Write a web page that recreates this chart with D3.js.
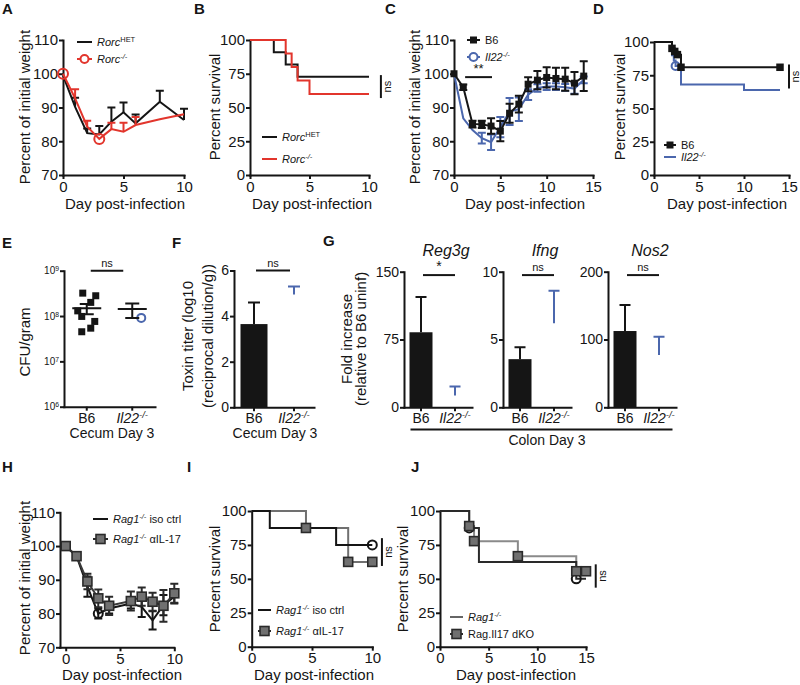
<!DOCTYPE html>
<html>
<head>
<meta charset="utf-8">
<script src="https://cdn.jsdelivr.net/npm/d3@7"></script>
<style>
  body { margin: 0; background: #fff; }
</style>
</head>
<body>
<script>
// ---------- data ----------
// A: weight, Rorc
const daysA = [0, 1, 2, 3, 4, 5, 6, 8, 10];
const hetA = [99.5, 90.2, 82.4, 82, 85.8, 88.6, 85.3, 91.7, 86.3];
const hetErrA = [0, 2.7, 1.4, 2.5, 4.2, 2.9, 2.6, 3.3, 3.3];
const koA = [100, 92.7, 84.3, 80.7, 83.6, 82.8, 84.8, 86.5, 88];
const koErrA = [0, 2.7, 1.8, 0, 1.9, 2.7, 2.4, 0, 0];
const koMarkA = [0, 3];

// B: survival, Rorc
const survTimeHetB = [0, 2, 3, 4, 10];
const survHetB = [100, 90.9, 81.8, 72.7, 72.7];
const survTimeKoB = [0, 3, 3.5, 4, 5, 10];
const survKoB = [100, 90, 80, 70, 60, 60];
const nsB = [74, 57];

// C: weight, B6 vs Il22
const daysC = [0, 1, 2, 3, 4, 5, 6, 7, 8, 9, 10, 11, 12, 13, 14];
const b6C = [100, 96, 85.1, 85, 84.5, 83, 88.3, 91, 96.9, 98.1, 98.9, 98.6, 98.4, 97.2, 99.3];
const b6ErrC = [0, 0.8, 1, 1.1, 2.3, 3, 2.8, 2.5, 2.1, 2.7, 3, 3.2, 3.4, 3.3, 4.4];
const il22C = [100, 86.8, 83.3, 80.9, 79.7, 84.2, 88.8, 89.5, 93.8, 95.8, 96.2, 96.2, 96, 95.6, 98.2];
const il22ErrC = [0, 0, 0, 1.6, 2.3, 3, 4, 3.5, 1.6, 1.1, 1, 1, 1, 1.5, 1];
const starC = [1.2, 4.1, 99];

// D: survival, B6 vs Il22
const survTimeB6D = [0, 2, 2.3, 2.6, 3, 14];
const survB6D = [100, 95.2, 92.9, 90.5, 81, 81];
const markTimeB6D = [2, 2.3, 2.6, 3, 14];
const markB6D = [95.2, 92.9, 90.5, 81, 81];
const survTimeIl22D = [0, 2, 2.2, 2.4, 3, 10, 14];
const survIl22D = [100, 90, 86, 82, 68, 64, 64];
const nsD = [83, 65];

// E: CFU/gram
const catsE = ['B6', 'Il22'];
const cfuB6 = [3.2e8, 2.8e8, 2e8, 1.3e8, 9.8e7, 7.6e7, 4.5e7, 5.4e7];
const jitterB6 = [-4, 9, 4, -9, -5, 8, -5, 4];
const cfuIl22 = [9.1e7];
const jitterIl22 = [9];
const meanE = [1.48e8, 1.43e8];
const lowE = [1.1e8, 9.1e7];
const highE = [1.84e8, 1.9e8];

// F: toxin titer
const toxMean = [3.65, 4.95];
const toxErr = [0.95, 0.35];

// G: fold increase
const genesG = ['Reg3g', 'Ifng', 'Nos2'];
const maxG = [150, 10, 200];
const ticksG = [[0, 75, 150], [0, 5, 10], [0, 100, 200]];
const meanG = [[83, 13], [3.55, 6.2], [112.5, 77]];
const errG = [[39, 10], [0.87, 2.4], [38.5, 27]];
const sigG = ['*', 'ns', 'ns'];

// H: weight, Rag1 iso vs anti-IL-17
const daysH = [0, 1, 2, 3, 4, 6, 7, 8, 9, 10];
const isoH = [100, 97, 88, 80, 81.5, 83, 82, 78, 82.5, 85];
const isoErrH = [0, 0.8, 3, 1.5, 1.5, 1.5, 3, 2.7, 3, 2];
const il17H = [100, 97, 89.5, 84.5, 82.3, 83.7, 85, 83.5, 82.3, 86];
const il17ErrH = [0, 1, 2.3, 2.6, 2.7, 2.8, 2.7, 2.7, 4.7, 2.8];

// I: survival, Rag1 iso vs anti-IL-17
const survTimeIsoI = [0, 1.5, 7, 10];
const survIsoI = [100, 87.5, 75, 75];
const survTimeIl17I = [0, 4.5, 8, 10];
const survIl17I = [100, 87.5, 62.5, 62.5];
const markTimeIl17I = [4.5, 8, 10];
const markIl17I = [87.5, 62.5, 62.5];
const nsI = [10.8, 80, 59.5];

// J: survival, Rag1 vs Rag.Il17 dKO
const survTimeRagJ = [0, 3, 4, 14, 15];
const survRagJ = [100, 87.5, 62.5, 50, 50];
const markTimeRagJ = [3, 14];
const markRagJ = [87.5, 50];
const survTimeDkoJ = [0, 3, 3.5, 8, 14, 15];
const survDkoJ = [100, 88.9, 77.8, 66.7, 55.6, 55.6];
const markTimeDkoJ = [3, 3.5, 8, 14, 15];
const markDkoJ = [88.9, 77.8, 66.7, 55.6, 55.6];
const nsJ = [16, 60.7, 43.5];

// ---------- helpers ----------
const FONT = '"Liberation Sans", Arial, Helvetica, sans-serif';
const INK = '#151515', RED = '#e2352c', BLUE = '#4b67ad', GRAY = '#707070';

const svg = d3.select('body').append('svg')
  .attr('width', 800).attr('height', 685)
  .style('background', '#fff');

function addParts(t, parts) {
  parts.forEach(([s, f]) => {
    const sp = t.append('tspan').text(s);
    if (f.includes('i')) sp.attr('font-style', 'italic');
    if (f.includes('s')) sp.attr('baseline-shift', 'super').attr('font-size', '0.68em');
  });
}

function txt(x, y, parts, fs, anchor, rot, weight) {
  const t = svg.append('text')
    .attr('font-family', FONT).attr('font-size', fs).attr('fill', INK)
    .attr('text-anchor', anchor || 'start')
    .attr('font-weight', weight || 'normal');
  if (rot) t.attr('transform', `translate(${x},${y}) rotate(${rot})`);
  else t.attr('x', x).attr('y', y);
  addParts(t, typeof parts === 'string' ? [[parts, '']] : parts);
  return t;
}

function styleAxis(g, fs) {
  g.attr('font-family', FONT).attr('font-size', fs);
  g.selectAll('path, line').attr('stroke', INK).attr('stroke-width', 2);
  g.select('.domain').attr('stroke-linecap', 'square');
  g.selectAll('text').attr('fill', INK);
}

function axes(x, y, xt, yt, opt = {}) {
  const fs = opt.fs || 15;
  const ax = opt.ax !== undefined ? opt.ax : x.range()[0];
  const gy = svg.append('g').attr('transform', `translate(${ax},0)`)
    .call(d3.axisLeft(y).tickValues(yt).tickSize(4).tickSizeOuter(0).tickPadding(1)
      .tickFormat(opt.yf || d3.format('d')));
  const ax2 = d3.axisBottom(x).tickSize(4).tickSizeOuter(0).tickPadding(2);
  if (xt) ax2.tickValues(xt).tickFormat(d3.format('d'));
  const gx = svg.append('g').attr('transform', `translate(0,${y.range()[0]})`).call(ax2);
  styleAxis(gy, opt.yfs || fs);
  styleAxis(gx, fs);
  if (opt.ax !== undefined) gx.select('.domain').attr('d', `M${ax},0.5H${x.range()[1]}`);
  return { gx, gy };
}

function lineG(x, y, xs, ys, color, curve, width) {
  svg.append('path').datum(xs.map((d, i) => [d, ys[i]]))
    .attr('d', d3.line().x(d => x(d[0])).y(d => y(d[1])).curve(curve || d3.curveLinear))
    .attr('fill', 'none').attr('stroke', color).attr('stroke-width', width || 2)
    .attr('stroke-linejoin', 'miter');
}

function errBars(x, y, xs, ys, es, color, cap, oneSided) {
  const p = d3.path();
  xs.forEach((d, i) => {
    if (!es[i]) return;
    const cx = x(d), hi = y(ys[i] + es[i]), lo = y(oneSided ? ys[i] : ys[i] - es[i]);
    p.moveTo(cx, lo); p.lineTo(cx, hi);
    p.moveTo(cx - cap / 2, hi); p.lineTo(cx + cap / 2, hi);
    if (!oneSided) { p.moveTo(cx - cap / 2, lo); p.lineTo(cx + cap / 2, lo); }
  });
  svg.append('path').attr('d', p.toString()).attr('fill', 'none')
    .attr('stroke', color).attr('stroke-width', 2);
}

function squares(x, y, xs, ys, size, fill, stroke) {
  svg.append('g').selectAll('rect').data(xs.map((d, i) => [d, ys[i]])).join('rect')
    .attr('x', d => x(d[0]) - size / 2).attr('y', d => y(d[1]) - size / 2)
    .attr('width', size).attr('height', size)
    .attr('fill', fill).attr('stroke', stroke || 'none').attr('stroke-width', 1.6);
}

function circles(x, y, xs, ys, r, color) {
  svg.append('g').selectAll('circle').data(xs.map((d, i) => [d, ys[i]])).join('circle')
    .attr('cx', d => x(d[0])).attr('cy', d => y(d[1])).attr('r', r)
    .attr('fill', 'none').attr('stroke', color).attr('stroke-width', 2);
}

function legend(x1, x2, y, color, marker, parts, fs) {
  svg.append('line').attr('x1', x1).attr('x2', x2).attr('y1', y).attr('y2', y)
    .attr('stroke', color).attr('stroke-width', 2);
  const m = (x1 + x2) / 2;
  if (marker === 'sq') svg.append('rect').attr('x', m - 3.5).attr('y', y - 3.5)
    .attr('width', 7).attr('height', 7).attr('fill', INK);
  if (marker === 'sqg') svg.append('rect').attr('x', m - 4.5).attr('y', y - 4.5)
    .attr('width', 9).attr('height', 9).attr('fill', GRAY).attr('stroke', '#2a2a2a').attr('stroke-width', 1.6);
  if (marker === 'circ') svg.append('circle').attr('cx', m).attr('cy', y).attr('r', 4)
    .attr('fill', '#fff').attr('stroke', color).attr('stroke-width', 2);
  txt(x2 + 5, y + 4, parts, fs || 11);
}

function nsMark(xp, y1, y2) {
  svg.append('line').attr('x1', xp).attr('x2', xp).attr('y1', y1).attr('y2', y2)
    .attr('stroke', INK).attr('stroke-width', 2);
  txt(xp + 10, (y1 + y2) / 2, 'ns', 11, 'middle', -90);
}

function hBar(x1, x2, yp, label, fs) {
  svg.append('line').attr('x1', x1).attr('x2', x2).attr('y1', yp).attr('y2', yp)
    .attr('stroke', INK).attr('stroke-width', 2);
  txt((x1 + x2) / 2, yp - 4, label, fs || 11, 'middle');
}

const step = d3.curveStepAfter;
const hetParts = [['Rorc', 'i'], ['HET', 's']];
const koParts = [['Rorc', 'i'], ['-/-', 'is']];
const il22Parts = [['Il22', 'i'], ['-/-', 'is']];
const catParts = { B6: [['B6', '']], Il22: il22Parts };

// panel letters
[['A', 2, 14], ['B', 194, 14], ['C', 385, 14], ['D', 593, 14],
 ['E', 2, 248], ['F', 172, 248], ['G', 323, 246],
 ['H', 2, 472], ['I', 187, 472], ['J', 411, 472]]
  .forEach(([l, x, y]) => txt(x, y, l, 15, 'start', 0, 'bold'));

// ---------- A ----------
const xA = d3.scaleLinear().domain([0, 10]).range([63, 184]);
const yA = d3.scaleLinear().domain([70, 110]).range([175, 40]);
axes(xA, yA, [0, 5, 10], [70, 80, 90, 100, 110]);
lineG(xA, yA, daysA, hetA, INK);
errBars(xA, yA, daysA, hetA, hetErrA, INK, 8, true);
lineG(xA, yA, daysA, koA, RED);
errBars(xA, yA, daysA, koA, koErrA, RED, 8, true);
circles(xA, yA, koMarkA, koMarkA.map(d => koA[daysA.indexOf(d)]), 5, RED);
legend(77, 92, 42, INK, null, hetParts);
legend(77, 92, 59, RED, 'circ', koParts);
txt(30, 107, 'Percent of initial weight', 15, 'middle', -90);
txt(125, 209, 'Day post-infection', 15, 'middle');

// ---------- B ----------
const xB = d3.scaleLinear().domain([0, 10]).range([250, 369]);
const yB = d3.scaleLinear().domain([0, 100]).range([175, 40]);
axes(xB, yB, [0, 5, 10], [0, 25, 50, 75, 100]);
lineG(xB, yB, survTimeHetB, survHetB, INK, step);
lineG(xB, yB, survTimeKoB, survKoB, RED, step);
nsMark(xB(11), yB(nsB[0]), yB(nsB[1]));
legend(262, 277, 137, INK, null, hetParts);
legend(262, 277, 159, RED, null, koParts);
txt(220, 107, 'Percent survival', 15, 'middle', -90);
txt(312, 209, 'Day post-infection', 15, 'middle');

// ---------- C ----------
const xC = d3.scaleLinear().domain([0, 15]).range([454, 593]);
const yC = d3.scaleLinear().domain([70, 110]).range([175, 40]);
axes(xC, yC, [0, 5, 10, 15], [70, 80, 90, 100, 110]);
lineG(xC, yC, daysC, il22C, BLUE);
errBars(xC, yC, daysC, il22C, il22ErrC, BLUE, 8, false);
lineG(xC, yC, daysC, b6C, INK);
errBars(xC, yC, daysC, b6C, b6ErrC, INK, 8, false);
squares(xC, yC, daysC, b6C, 7, INK);
hBar(xC(starC[0]), xC(starC[1]), yC(starC[2]), '**', 13);
legend(467, 480, 40, INK, 'sq', [['B6', '']]);
legend(467, 480, 57, BLUE, 'circ', il22Parts);
txt(420, 107, 'Percent of initial weight', 15, 'middle', -90);
txt(525, 209, 'Day post-infection', 15, 'middle');

// ---------- D ----------
const xD = d3.scaleLinear().domain([0, 15]).range([654, 789]);
const yD = d3.scaleLinear().domain([0, 100]).range([175, 42]);
axes(xD, yD, [0, 5, 10, 15], [0, 25, 50, 75, 100]);
lineG(xD, yD, survTimeIl22D, survIl22D, BLUE, step);
circles(xD, yD, [survTimeIl22D[3]], [survIl22D[3]], 4, BLUE);
lineG(xD, yD, survTimeB6D, survB6D, INK, step);
squares(xD, yD, markTimeB6D, markB6D, 7.5, INK);
nsMark(xD(15), yD(nsD[0]), yD(nsD[1]));
legend(664, 676, 145, INK, 'sq', [['B6', '']]);
legend(664, 676, 157, BLUE, null, il22Parts);
txt(625, 107, 'Percent survival', 15, 'middle', -90);
txt(727, 209, 'Day post-infection', 15, 'middle');

// ---------- E ----------
const xE = d3.scaleBand().domain(catsE).range([64, 155]);
const yE = d3.scaleLog().domain([1e6, 1e9]).range([406.7, 270.7]);
const axE = axes(xE, yE, null, [1e6, 1e7, 1e8, 1e9], { fs: 14, yfs: 10 });
axE.gy.selectAll('.tick text').each(function (d) {
  const t = d3.select(this).text(null);
  addParts(t, [['10', ''], [String(Math.round(Math.log10(d))), 's']]);
});
axE.gx.selectAll('.tick text').each(function (d) {
  addParts(d3.select(this).text(null), catParts[d]);
});
const cE = d => xE(d) + xE.bandwidth() / 2;
svg.append('g').selectAll('rect').data(cfuB6).join('rect')
  .attr('x', (d, i) => cE('B6') + jitterB6[i] - 3.5).attr('y', d => yE(d) - 3.5)
  .attr('width', 7).attr('height', 7).attr('fill', INK);
svg.append('g').selectAll('circle').data(cfuIl22).join('circle')
  .attr('cx', (d, i) => cE('Il22') + jitterIl22[i]).attr('cy', d => yE(d)).attr('r', 4)
  .attr('fill', '#fff').attr('stroke', BLUE).attr('stroke-width', 2);
catsE.forEach((c, i) => {
  const p = d3.path(), cx = cE(c);
  p.moveTo(cx - 14.5, yE(meanE[i])); p.lineTo(cx + 14.5, yE(meanE[i]));
  p.moveTo(cx, yE(lowE[i])); p.lineTo(cx, yE(highE[i]));
  p.moveTo(cx - 7, yE(lowE[i])); p.lineTo(cx + 7, yE(lowE[i]));
  p.moveTo(cx - 7, yE(highE[i])); p.lineTo(cx + 7, yE(highE[i]));
  svg.append('path').attr('d', p.toString()).attr('stroke', INK).attr('stroke-width', 2).attr('fill', 'none');
});
hBar(cE('B6') + 4, cE('Il22') - 9, yE(1e9), 'ns', 11);
txt(30, 342, 'CFU/gram', 15, 'middle', -90);
txt(112, 438, 'Cecum Day 3', 14, 'middle');

// ---------- F ----------
const xF = d3.scaleBand().domain(catsE).range([234, 314]);
const yF = d3.scaleLinear().domain([0, 6]).range([407.3, 270.5]);
const axF = axes(xF, yF, null, [0, 2, 4, 6], { fs: 14 });
axF.gx.selectAll('.tick text').each(function (d) {
  addParts(d3.select(this).text(null), catParts[d]);
});
const cF = d => xF(d) + xF.bandwidth() / 2;
svg.append('rect').attr('x', cF('B6') - 13.5).attr('width', 27)
  .attr('y', yF(toxMean[0])).attr('height', yF(0) - yF(toxMean[0])).attr('fill', INK);
catsE.forEach((c, i) => {
  errBars(v => cF(c), yF, [0], [toxMean[i]], [toxErr[i]], i ? BLUE : INK, 12, true);
});
hBar(cF('B6') + 2, cF('Il22') - 4, yF(6), 'ns', 11);
txt(193, 336, 'Toxin titer (log10', 15, 'middle', -90);
txt(213, 336, '(reciprocal dilution/g))', 15, 'middle', -90);
txt(275, 438, 'Cecum Day 3', 14, 'middle');

// ---------- G ----------
const rangesG = [[404, 472], [503, 571], [608, 676]];
genesG.forEach((gene, k) => {
  const x = d3.scaleBand().domain(catsE).range(rangesG[k]);
  const y = d3.scaleLinear().domain([0, maxG[k]]).range([407.3, 271.7]);
  const a = axes(x, y, null, ticksG[k], { fs: 14 });
  a.gx.selectAll('.tick text').each(function (d) {
    addParts(d3.select(this).text(null), catParts[d]);
  });
  const c = d => x(d) + x.bandwidth() / 2;
  svg.append('rect').attr('x', c('B6') - 11.5).attr('width', 23)
    .attr('y', y(meanG[k][0])).attr('height', y(0) - y(meanG[k][0])).attr('fill', INK);
  catsE.forEach((cat, i) => {
    errBars(v => c(cat), y, [0], [meanG[k][i]], [errG[k][i]], i ? BLUE : INK, 11, true);
  });
  hBar(c('B6') + 2, c('Il22') + 0, y(maxG[k] * 0.975), sigG[k], sigG[k] === '*' ? 14 : 11);
  txt((rangesG[k][0] + rangesG[k][1]) / 2 + 8, 256, [[gene, 'i']], 16, 'middle');
});
svg.append('line').attr('x1', 410.5).attr('x2', 672.5).attr('y1', 429.5).attr('y2', 429.5)
  .attr('stroke', INK).attr('stroke-width', 2);
txt(547, 445, 'Colon  Day 3', 14, 'middle');
txt(352, 339, 'Fold increase', 15, 'middle', -90);
txt(366, 339, '(relative to B6 uninf)', 15, 'middle', -90);

// ---------- H ----------
const xH = d3.scaleLinear().domain([0, 10]).range([65.7, 174.3]);
const yH = d3.scaleLinear().domain([70, 110]).range([647.3, 512.3]);
axes(xH, yH, [0, 5, 10], [70, 80, 90, 100, 110], { ax: 60 });
lineG(xH, yH, daysH, isoH, INK);
errBars(xH, yH, daysH, isoH, isoErrH, INK, 8, false);
circles(xH, yH, [daysH[3]], [isoH[3]], 4.5, INK);
lineG(xH, yH, daysH, il17H, '#3a3a3a');
errBars(xH, yH, daysH, il17H, il17ErrH, '#2a2a2a', 8, false);
squares(xH, yH, daysH, il17H, 9, GRAY, '#2a2a2a');
legend(93, 108, 519, INK, null, [['Rag1', 'i'], ['-/-', 'is'], [' iso ctrl', '']]);
legend(93, 108, 539, '#2a2a2a', 'sqg', [['Rag1', 'i'], ['-/-', 'is'], [' \u03b1IL-17', '']]);
txt(30, 578, 'Percent of initial weight', 15, 'middle', -90);
txt(122, 680, 'Day post-infection', 15, 'middle');

// ---------- I ----------
const xI = d3.scaleLinear().domain([0, 10]).range([251.7, 372.3]);
const yI = d3.scaleLinear().domain([0, 100]).range([646.7, 511]);
axes(xI, yI, [0, 5, 10], [0, 25, 50, 75, 100]);
lineG(xI, yI, survTimeIl17I, survIl17I, GRAY, step);
lineG(xI, yI, survTimeIsoI, survIsoI, INK, step);
circles(xI, yI, [10], [survIsoI[3]], 4.5, INK);
squares(xI, yI, markTimeIl17I, markIl17I, 9, GRAY, '#2a2a2a');
nsMark(xI(nsI[0]), yI(nsI[1]), yI(nsI[2]));
legend(258, 271, 610, INK, null, [['Rag1', 'i'], ['-/-', 'is'], [' iso ctrl', '']]);
legend(258, 271, 631, '#2a2a2a', 'sqg', [['Rag1', 'i'], ['-/-', 'is'], [' \u03b1IL-17', '']]);
txt(220, 579, 'Percent survival', 15, 'middle', -90);
txt(314, 680, 'Day post-infection', 15, 'middle');

// ---------- J ----------
const xJ = d3.scaleLinear().domain([0, 15]).range([440, 586]);
const yJ = d3.scaleLinear().domain([0, 100]).range([646.7, 511]);
axes(xJ, yJ, [0, 5, 10, 15], [0, 25, 50, 75, 100]);
lineG(xJ, yJ, survTimeDkoJ, survDkoJ, '#8a8a8a', step);
lineG(xJ, yJ, survTimeRagJ, survRagJ, '#2a2a2a', step);
circles(xJ, yJ, markTimeRagJ, markRagJ, 4.5, INK);
squares(xJ, yJ, markTimeDkoJ, markDkoJ, 9, GRAY, '#2a2a2a');
nsMark(xJ(nsJ[0]), yJ(nsJ[1]), yJ(nsJ[2]));
legend(450, 463, 617, '#666', null, [['Rag1', 'i'], ['-/-', 'is']]);
legend(450, 463, 634, '#2a2a2a', 'sqg', [['Rag.Il17 dKO', '']]);
txt(408, 579, 'Percent survival', 15, 'middle', -90);
txt(516, 680, 'Day post-infection', 15, 'middle');
</script>
</body>
</html>
